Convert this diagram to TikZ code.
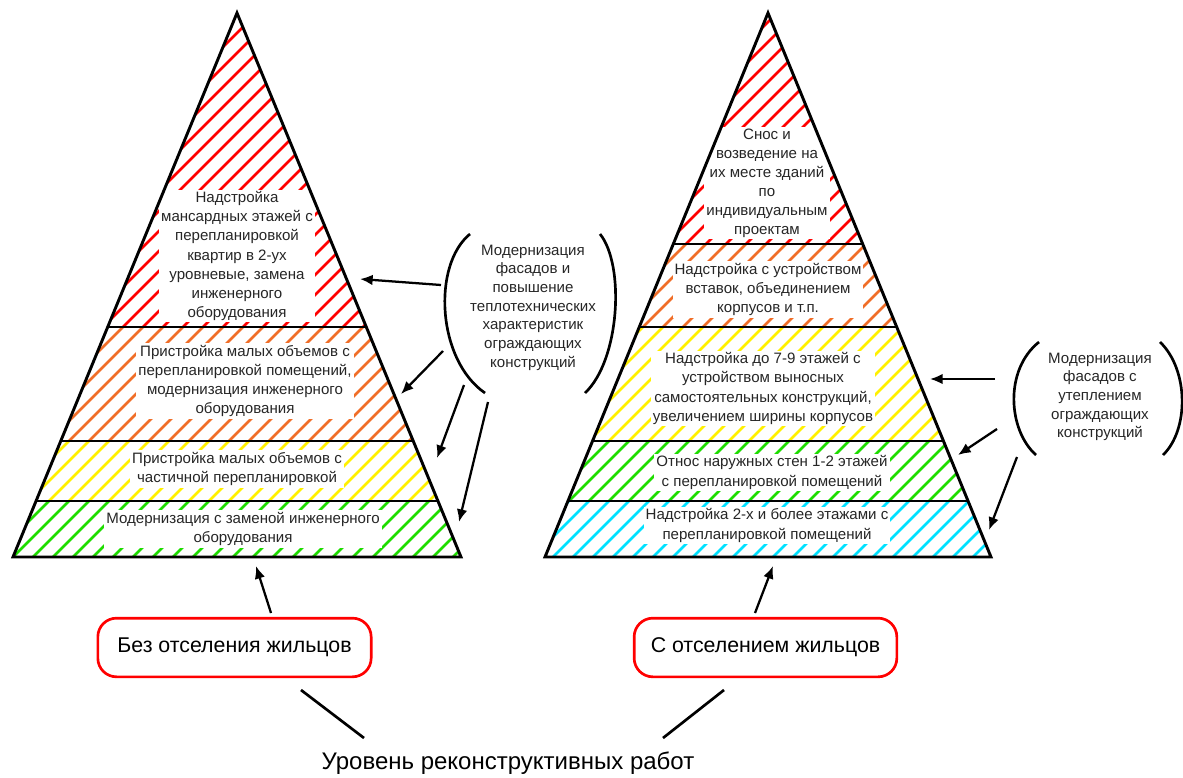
\documentclass[tikz,border=0pt]{standalone}
\usepackage{fontspec}
\setmainfont{Liberation Sans}
\usepackage{xcolor}
\usetikzlibrary{calc, positioning, arrows.meta}
\definecolor{hatchred}{RGB}{255,0,0}
\definecolor{hatchorange}{RGB}{240,110,40}
\definecolor{hatchyellow}{RGB}{255,240,0}
\definecolor{hatchgreen}{RGB}{30,220,0}
\definecolor{hatchcyan}{RGB}{0,225,255}
\tikzset{
    outline/.style={draw=black, line width=2.2pt},
    hatch/.style={line width=2pt},
    level/.style={fill=white, inner sep=1.5pt, align=center, text=black!85, font=\fontsize{11.3}{14.3}\selectfont},
    remark/.style={inner sep=0pt, align=center, text=black!85, font=\fontsize{11.3}{14}\selectfont},
    mode/.style={rectangle, rounded corners=14pt, draw=red, line width=2pt, minimum height=44pt, font=\fontsize{16}{19}\selectfont},
    arrow/.style={-{Latex[length=9.5pt, width=8pt]}, line width=1.7pt},
    bracket/.style={line width=2pt}
}
\newcommand{\hatchband}[5]{%
    \begin{scope}
        \clip #2 -- #3 -- #4 -- #5 -- cycle;
        \foreach \k in {0,...,82}
            \draw[hatch, #1] (-620+20*\k, 570) -- ++(620,-620);
    \end{scope}}

\begin{document}
\begin{tikzpicture}[x=0.75pt, y=-0.75pt]
    \useasboundingbox (0,0) rectangle (1183,778);

    % Left pyramid
    \coordinate (aL) at (237,13);
    \coordinate (blL) at (13,557);
    \coordinate (brL) at (461,557);
    \foreach \n/\t in {1/0.5772, 2/0.7868, 3/0.8971} {
        \coordinate (lL\n) at ($(aL)!\t!(blL)$);
        \coordinate (rL\n) at ($(aL)!\t!(brL)$);
    }
    \hatchband{hatchred}{(aL)}{(aL)}{(rL1)}{(lL1)}
    \hatchband{hatchorange}{(lL1)}{(rL1)}{(rL2)}{(lL2)}
    \hatchband{hatchyellow}{(lL2)}{(rL2)}{(rL3)}{(lL3)}
    \hatchband{hatchgreen}{(lL3)}{(rL3)}{(brL)}{(blL)}

    % Right pyramid
    \coordinate (aR) at (768,13);
    \coordinate (blR) at (545,557);
    \coordinate (brR) at (991,557);
    \foreach \n/\t in {1/0.4246, 2/0.5772, 3/0.7868, 4/0.8971} {
        \coordinate (lR\n) at ($(aR)!\t!(blR)$);
        \coordinate (rR\n) at ($(aR)!\t!(brR)$);
    }
    \hatchband{hatchred}{(aR)}{(aR)}{(rR1)}{(lR1)}
    \hatchband{hatchorange}{(lR1)}{(rR1)}{(rR2)}{(lR2)}
    \hatchband{hatchyellow}{(lR2)}{(rR2)}{(rR3)}{(lR3)}
    \hatchband{hatchgreen}{(lR3)}{(rR3)}{(rR4)}{(lR4)}
    \hatchband{hatchcyan}{(lR4)}{(rR4)}{(brR)}{(blR)}

    % Level texts
    \node[level] (tL1) at (237,256) {Надстройка\\мансардных этажей с\\перепланировкой\\квартир в 2-ух\\уровневые, замена\\инженерного\\оборудования};
    \node[level] (tL2) at (245,381) {Пристройка малых объемов с\\перепланировкой помещений,\\модернизация инженерного\\оборудования};
    \node[level] (tL3) at (237,469) {Пристройка малых объемов с\\частичной перепланировкой};
    \node[level] (tL4) at (243,529) {Модернизация с заменой инженерного\\оборудования};
    \node[level] (tR1) at (767,183) {Снос и\\возведение на\\их месте зданий\\по\\индивидуальным\\проектам};
    \node[level] (tR2) at (768,289.5) {Надстройка с устройством\\вставок, объединением\\корпусов и т.п.};
    \node[level] (tR3) at (763,388.5) {Надстройка до 7-9 этажей с\\устройством выносных\\самостоятельных конструкций,\\увеличением ширины корпусов};
    \node[level] (tR4) at (772,472.5) {Относ наружных стен 1-2 этажей\\с перепланировкой помещений};
    \node[level] (tR5) at (767,525.5) {Надстройка 2-х и более этажами с\\перепланировкой помещений};

    % Outlines on top
    \draw[outline] (aL) -- (brL) -- (blL) -- cycle;
    \foreach \n in {1,2,3} \draw[outline] (lL\n) -- (rL\n);
    \draw[outline] (aR) -- (brR) -- (blR) -- cycle;
    \foreach \n in {1,...,4} \draw[outline] (lR\n) -- (rR\n);

    % Facade remarks
    \node[remark] (facL) at (533,307.5) {Модернизация\\фасадов и\\повышение\\теплотехнических\\характеристик\\ограждающих\\конструкций};
    \draw[bracket] (470,234) .. controls (432,265) and (437,360) .. (485,393);
    \draw[bracket] (600,234) .. controls (625,265) and (620,360) .. (585,393);
    \node[remark] (facR) at (1100,397) {Модернизация\\фасадов с\\утеплением\\ограждающих\\конструкций};
    \draw[bracket] (1039,342) .. controls (1004,370) and (1008,430) .. (1036,455);
    \draw[bracket] (1160,342) .. controls (1189,370) and (1189,430) .. (1163,455);

    \coordinate (gL1) at (441,285); \coordinate (pL1) at (360,279);
    \coordinate (gL2) at (443,351); \coordinate (pL2) at (401,394);
    \coordinate (gL3) at (464,385); \coordinate (pL3) at (437,458);
    \coordinate (gL4) at (488,402); \coordinate (pL4) at (459,522);
    \foreach \n in {1,...,4} \draw[arrow] (gL\n) -- (pL\n);
    \coordinate (gR1) at (995,379); \coordinate (pR1) at (930,379);
    \coordinate (gR2) at (997,429); \coordinate (pR2) at (958,455);
    \coordinate (gR3) at (1017,457); \coordinate (pR3) at (989,530);
    \foreach \n in {1,...,3} \draw[arrow] (gR\n) -- (pR\n);

    % Modes
    \node[mode, minimum width=205pt] (modeL) at (234.5,647.5) {Без отселения жильцов};
    \node[mode, minimum width=197pt] (modeR) at (765.5,647.5) {С отселением жильцов};
    \node[font=\fontsize{18}{21}\selectfont] (work) at (508,763) {Уровень реконструктивных работ};

    \coordinate (uL) at (271,613); \coordinate (bL) at (256,566);
    \coordinate (uR) at (755,613); \coordinate (bR) at (773,566);
    \draw[arrow] (uL) -- (bL);
    \draw[arrow] (uR) -- (bR);
    \coordinate (wL) at (364,738); \coordinate (mL) at (301,690);
    \coordinate (wR) at (663,738); \coordinate (mR) at (724,690);
    \draw[bracket] (wL) -- (mL);
    \draw[bracket] (wR) -- (mR);
\end{tikzpicture}
\end{document}
